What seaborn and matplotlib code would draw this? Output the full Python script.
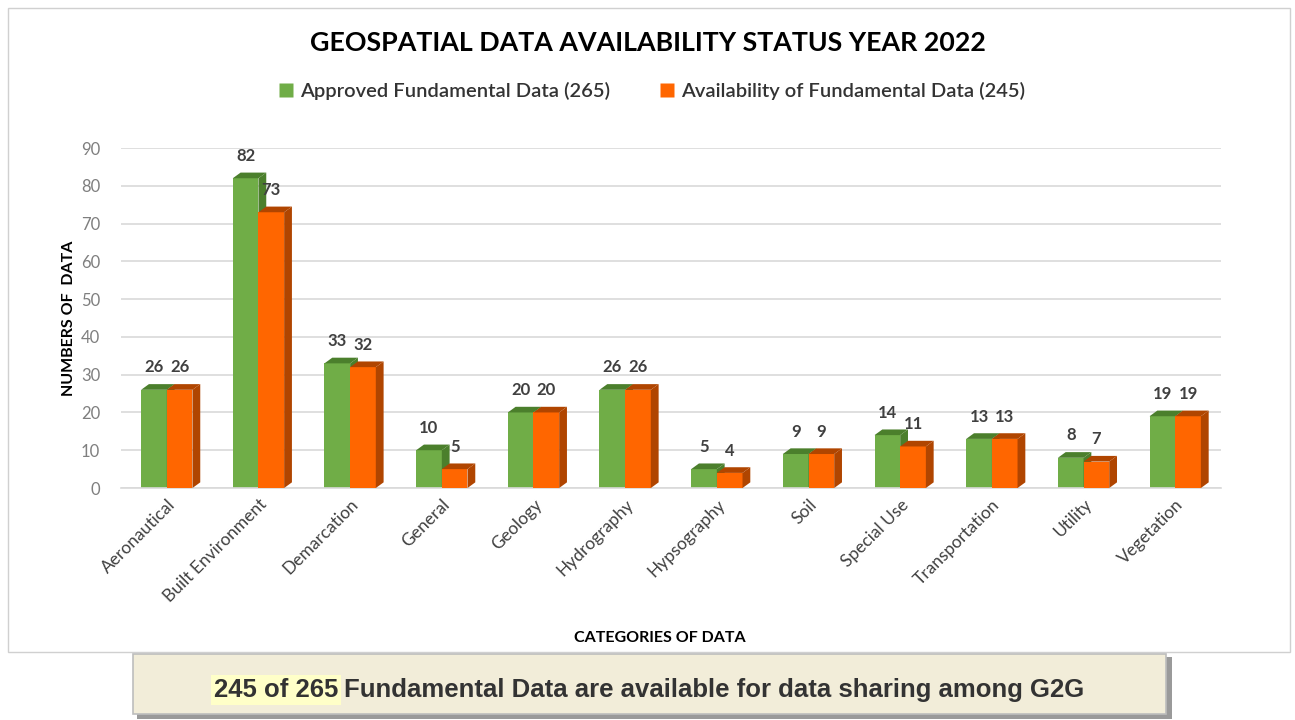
import matplotlib
matplotlib.use("Agg")
import matplotlib.pyplot as plt
from matplotlib.patches import Polygon, Rectangle
from matplotlib.lines import Line2D
import pandas as pd
import seaborn as sns

categories = ['Aeronautical', 'Built Environment', 'Demarcation', 'General', 'Geology',
              'Hydrography', 'Hypsography', 'Soil', 'Special Use', 'Transportation',
              'Utility', 'Vegetation']
approved = [26, 82, 33, 10, 20, 26, 5, 9, 14, 13, 8, 19]
available = [26, 73, 32, 5, 20, 26, 4, 9, 11, 13, 7, 19]
series_names = ['Approved Fundamental Data (265)', 'Availability of Fundamental Data (245)']

front_colors = ['#70AD47', '#FF6600']
side_colors = ['#4B7F2C', '#B04500']

df = pd.DataFrame({
    'category': categories * 2,
    'value': approved + available,
    'series': [series_names[0]] * len(categories) + [series_names[1]] * len(categories),
})

sns.set_style('white')
plt.rcParams['font.family'] = ['Lato', 'DejaVu Sans']

fig = plt.figure(figsize=(12.95, 7.2), dpi=100)
ax = fig.add_axes([0.0934, 0.3222, 0.8495, 0.4722])

sns.barplot(data=df, x='category', y='value', hue='series', order=categories,
            hue_order=series_names, palette=front_colors, width=0.56, saturation=1,
            legend=False, ax=ax, linewidth=0)

ax.set_xlim(-0.5, len(categories) - 0.5)
ax.set_ylim(0, 90)

# fake 3D depth faces, built from the bar geometry seaborn produced
dx, dy = 0.085, 1.5
for k, cont in enumerate(ax.containers):
    for p in cont.patches:
        x0, w, h = p.get_x(), p.get_width(), p.get_height()
        x1 = x0 + w
        p.set_zorder(2 + 2 * k)
        side = Polygon([(x1, 0), (x1 + dx, dy), (x1 + dx, h + dy), (x1, h)],
                       closed=True, facecolor=side_colors[k], edgecolor='none',
                       zorder=2.5 + 2 * k)
        top = Polygon([(x0, h), (x0 + dx, h + dy), (x1 + dx, h + dy), (x1, h)],
                      closed=True, facecolor=side_colors[k], edgecolor='none',
                      zorder=2.5 + 2 * k)
        ax.add_patch(side)
        ax.add_patch(top)
        ax.text(x0 + w / 2, h + dy + 2.3, f'{int(h)}', ha='center', va='bottom',
                fontsize=12, fontweight='bold', color='#404040', zorder=10)

ax.set_yticks(range(0, 91, 10))
ax.yaxis.grid(True, color='#D9D9D9', linewidth=1.2)
ax.set_axisbelow(True)
for s in ['top', 'right', 'left']:
    ax.spines[s].set_visible(False)
ax.spines['bottom'].set_color('#D9D9D9')
ax.spines['bottom'].set_linewidth(1.2)
ax.tick_params(axis='both', length=0, labelsize=12)
ax.tick_params(axis='y', pad=15, colors='#7F7F7F')
ax.tick_params(axis='x', pad=6, colors='#404040')
plt.setp(ax.get_xticklabels(), rotation=45, ha='right', rotation_mode='anchor',
         fontsize=12.5)

ax.set_xlabel('CATEGORIES OF DATA', fontsize=11.5, fontweight='bold', color='black')
ax.set_ylabel('NUMBERS OF  DATA', fontsize=11.5, fontweight='bold', color='black')
ax.xaxis.set_label_coords(0.49, -0.42)
ax.yaxis.set_label_coords(-0.041, 0.5)

fig.text(0.5, 0.94, 'GEOSPATIAL DATA AVAILABILITY STATUS YEAR 2022', ha='center',
         va='center', fontsize=19.3, fontweight='bold', color='black')

handles = [Line2D([], [], marker='s', linestyle='none', markersize=10,
                  markerfacecolor=c, markeredgecolor='none') for c in front_colors]
fig.legend(handles, series_names, loc='center', bbox_to_anchor=(0.503, 0.873), ncol=2,
           frameon=False, prop={'size': 14.5, 'weight': 'semibold'},
           handlelength=0.8, handletextpad=0.3, columnspacing=2.4, labelcolor='#333333')

# chart frame
fig.patches.append(Rectangle((8 / 1295, 1 - 652 / 720), 1282 / 1295, 644 / 720,
                             transform=fig.transFigure, fill=False,
                             edgecolor='#D0D0D0', linewidth=1))

# bottom banner with shadow
fig.patches.append(Rectangle((137 / 1295, 0.002), 1035 / 1295, 62 / 720,
                             transform=fig.transFigure, facecolor='#9A9A9A',
                             edgecolor='none'))
fig.patches.append(Rectangle((133 / 1295, 6 / 720), 1033 / 1295, 60 / 720,
                             transform=fig.transFigure, facecolor='#F2EDD9',
                             edgecolor='#BDBDBD', linewidth=1.2))
banner_font = ['Liberation Sans Narrow', 'Liberation Sans', 'DejaVu Sans']
t1 = fig.text(214 / 1295, 1 - 690 / 720, '245 of 265', ha='left', va='center',
              fontsize=18.5, fontweight='bold', color='#333333', family=banner_font,
              bbox=dict(boxstyle='square,pad=0.1', facecolor='#FFFFC8', edgecolor='none'))
fig.canvas.draw()
bb = t1.get_window_extent()
fig.text((bb.x1 + 6) / 1295, 1 - 690 / 720,
         'Fundamental Data are available for data sharing among G2G', ha='left',
         va='center', fontsize=18.5, fontweight='bold', color='#333333', family=banner_font)

fig.savefig('out.png', dpi=100, facecolor='white')
